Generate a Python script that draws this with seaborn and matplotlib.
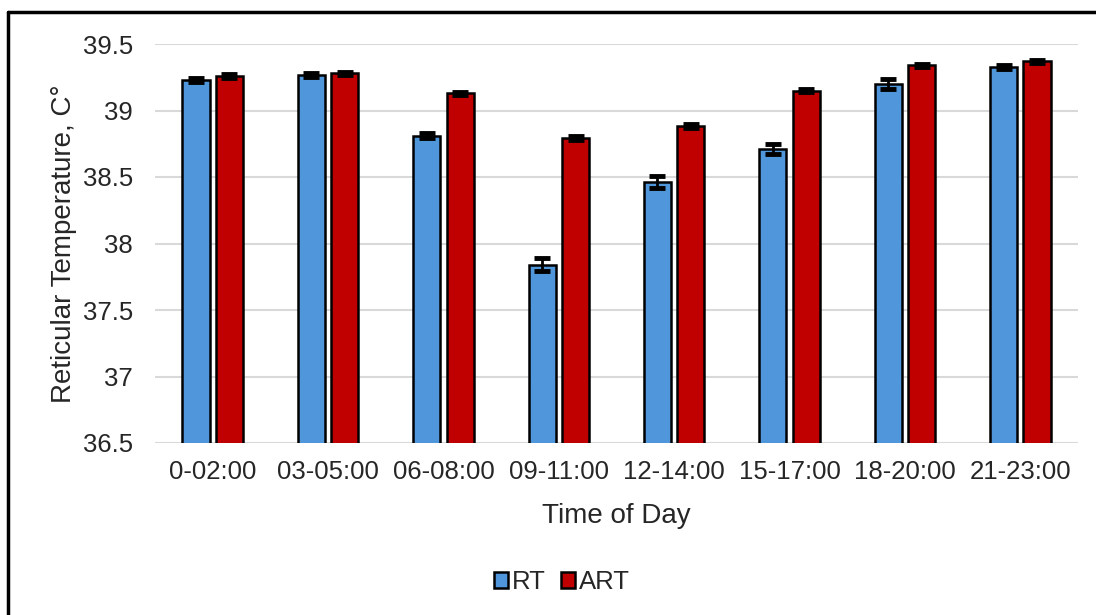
import pandas as pd
import seaborn as sn
import matplotlib.pyplot as plt
from matplotlib.lines import Line2D

### DATA
times = ["0-02:00", "03-05:00", "06-08:00", "09-11:00", "12-14:00", "15-17:00", "18-20:00", "21-23:00"]
rt_values = [39.23, 39.27, 38.81, 37.84, 38.46, 38.71, 39.20, 39.33]
art_values = [39.26, 39.28, 39.13, 38.79, 38.88, 39.15, 39.34, 39.37]
rt_err = [0.015, 0.015, 0.02, 0.05, 0.045, 0.04, 0.035, 0.015]
art_err = [0.012, 0.012, 0.012, 0.015, 0.015, 0.012, 0.012, 0.01]
groups = ["RT", "ART"]

df = pd.DataFrame({
    "time": times * 2,
    "temp": rt_values + art_values,
    "err": rt_err + art_err,
    "group": ["RT"] * len(times) + ["ART"] * len(times),
})

sn.set_style("white")
plt.rcParams['font.family'] = ['Liberation Sans', 'DejaVu Sans']

fig = plt.figure(figsize=(10.96, 6.15), dpi=100)
ax = fig.add_axes([155 / 1096, 1 - 443 / 615, (1078 - 155) / 1096, (443 - 44) / 615])

sn.barplot(data=df, x="time", y="temp", hue="group", hue_order=groups,
           palette={"RT": "#5096DB", "ART": "#C00000"}, saturation=1,
           width=0.58, gap=0.19, edgecolor="black", linewidth=1.8,
           errorbar=None, ax=ax)

# error bars from the bar patches
for i, g in enumerate(groups):
    sub = df[df.group == g]
    bars = ax.containers[i]
    xs = [b.get_x() + b.get_width() / 2 for b in bars]
    ax.errorbar(xs, sub.temp, yerr=sub.err, fmt="none", ecolor="black",
                elinewidth=2, capsize=6, capthick=3.5, zorder=5)

ax.set_ylim(36.5, 39.5)
ax.set_yticks([36.5, 37, 37.5, 38, 38.5, 39, 39.5])
ax.set_yticklabels(["36.5", "37", "37.5", "38", "38.5", "39", "39.5"])
ax.set_xlim(-0.5, len(times) - 0.5)
ax.yaxis.grid(True, color="#D9D9D9", linewidth=1.5)
ax.set_axisbelow(True)
for s in ax.spines.values():
    s.set_visible(False)
ax.tick_params(axis="both", length=0, labelsize=18.5, colors="#262626")
ax.tick_params(axis="y", pad=16)
ax.tick_params(axis="x", pad=12)

ax.set_xlabel("Time of Day", fontsize=20, color="#262626", labelpad=14)
ax.set_ylabel("Reticular Temperature, C°", fontsize=20, color="#262626", labelpad=4)

ax.get_legend().remove()
fig.legend(handles=ax.containers[0][:1] + ax.containers[1][:1], labels=groups,
           loc="center", bbox_to_anchor=(562 / 1096, 1 - 582 / 615), ncol=2,
           frameon=False, fontsize=18.5, handlelength=0.55, handleheight=0.55,
           handletextpad=0.15, columnspacing=0.6)

# figure frame (top and left edges visible)
fig.add_artist(Line2D([8 / 1096, 1], [1 - 12 / 615, 1 - 12 / 615], color="black", linewidth=2.5))
fig.add_artist(Line2D([8 / 1096, 8 / 1096], [0, 1 - 12 / 615], color="black", linewidth=2.5))

fig.savefig("out.png", dpi=100)
